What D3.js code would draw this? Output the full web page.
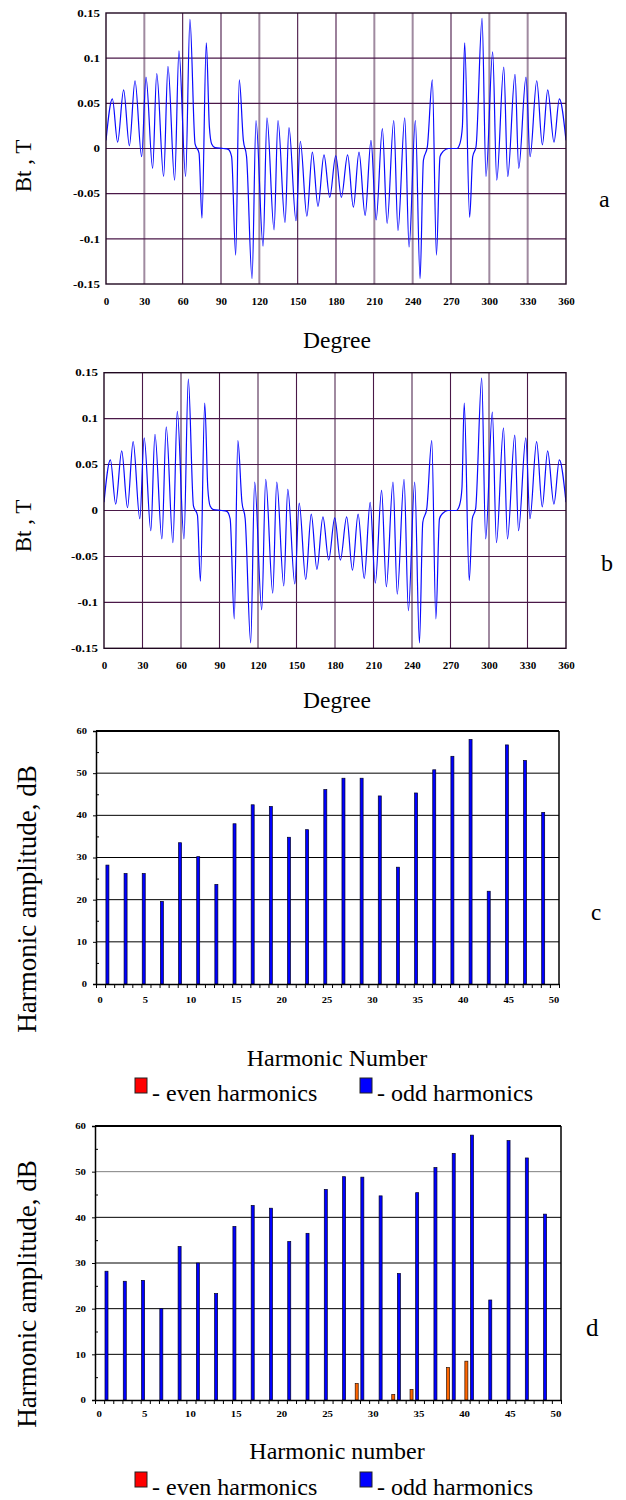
<!DOCTYPE html>
<html><head><meta charset="utf-8">
<script src="https://cdn.jsdelivr.net/npm/d3@7"></script>
<style>
body{margin:0;background:#fff}
svg{display:block}
</style>
</head><body>
<svg id="chart" width="626" height="1500"></svg>
<script>
// ---------- data ----------
const waveDegrees = [0,5.0,9.1,13.8,18.3,22.7,27.9,31.3,36.5,39.7,45.1,48.5,53.7,57.1,62.3,65.7,69.7,72.8,75.1,78.5,80.9,82.7,85.3,91.8,95.7,98.3,101.5,104.3,107.5,110.0,114.3,117.4,122.9,126.0,131.5,134.6,140.1,143.2,148.7,152.1,157.2,161.5,165.9,170.6,175.1,179.8,184.2,189.1,193.6,198.0,202.8,207.4,211.4,216.3,220.0,225.2,228.5,233.8,237.2,242.1,245.8,248.4,251.5,255.4,258.6,261.4,264.0,268.0,274.5,277.1,278.9,280.7,284.6,287.0,289.6,294.3,297.4,302.6,305.8,311.3,314.4,320.1,323.0,328.7,331.9,337.1,341.5,345.7,350.6,354.8,360];
const waveBt = [0.009,0.055,0.007,0.065,0.003,0.075,-0.009,0.079,-0.022,0.083,-0.031,0.091,-0.035,0.108,-0.031,0.143,0.005,-0.005,-0.077,0.117,0.024,0.005,0.001,0,-0.001,-0.009,-0.118,0.076,0.009,-0.009,-0.144,0.031,-0.108,0.034,-0.090,0.031,-0.082,0.023,-0.080,0.008,-0.075,-0.004,-0.064,-0.007,-0.054,-0.008,-0.054,-0.007,-0.065,-0.004,-0.074,0.009,-0.079,0.022,-0.083,0.031,-0.091,0.034,-0.109,0.031,-0.144,-0.013,0.002,0.076,-0.118,-0.009,-0.003,0,0,0.006,0.024,0.117,-0.076,-0.009,0.002,0.144,-0.031,0.107,-0.035,0.090,-0.031,0.082,-0.022,0.079,-0.009,0.075,0.004,0.065,0.007,0.055,0.009];
const degreeTicks = [0,30,60,90,120,150,180,210,240,270,300,330,360];
const btTicks = [-0.15,-0.1,-0.05,0,0.05,0.1,0.15];
const btTickLabels = ["-0.15","-0.1","-0.05","0","0.05","0.1","0.15"];

const harmonicCategories = [0,1,2,3,4,5,6,7,8,9,10,11,12,13,14,15,16,17,18,19,20,21,22,23,24,25,26,27,28,29,30,31,32,33,34,35,36,37,38,39,40,41,42,43,44,45,46,47,48,49,50];
const harmonicTickLabels = [0,5,10,15,20,25,30,35,40,45,50];
const oddHarmonics = [1,3,5,7,9,11,13,15,17,19,21,23,25,27,29,31,33,35,37,39,41,43,45,47,49];
const oddAmpC = [28.2,26.2,26.2,19.6,33.5,30.2,23.6,38.0,42.5,42.1,34.8,36.6,46.1,48.8,48.8,44.6,27.7,45.3,50.8,54.0,58.0,22.0,56.7,53.0,40.7];
const evenHarmonicsC = [];
const evenAmpC = [];
const oddAmpD = [28.2,26.0,26.2,20.0,33.6,30.0,23.3,38.0,42.6,42.0,34.7,36.5,46.1,48.9,48.8,44.7,27.7,45.4,50.9,54.0,58.0,21.9,56.8,53.0,40.7];
const evenHarmonicsD = [28,32,34,38,40];
const evenAmpD = [3.6,1.2,2.3,7.1,8.5];
const ampTicks = [0,10,20,30,40,50,60];
const ampMinorTicks = [5,15,25,35,45,55];

const FONT = "Liberation Serif";
const svg = d3.select("#chart");

function txt(sel) { return sel.attr("font-family", FONT).attr("fill", "#000"); }

function styleTicks(axisG, fs, sx) {
  axisG.attr("font-family", FONT);
  axisG.selectAll(".tick text").each(function(){
    const t = d3.select(this);
    const x = +t.attr("x") || 0;
    t.attr("font-family", FONT).attr("font-size", fs).attr("font-weight", "bold").attr("fill", "#000")
      .attr("x", x / sx).attr("transform", `scale(${sx},1)`);
  });
}

// ---------- waveform panels ----------
function drawWave(cfg) {
  const {L, R, T, B, lightLines, idx} = cfg;
  const x = d3.scaleLinear().domain([0,360]).range([L,R]);
  const y = d3.scaleLinear().domain([-0.15,0.15]).range([B,T]);
  const g = svg.append("g");
  const dark = "#4a1848", light = "#a08aa0";
  g.append("g").selectAll("line").data(degreeTicks.filter(d => d > 0 && d < 360)).join("line")
    .attr("x1", d => x(d)).attr("x2", d => x(d)).attr("y1", T).attr("y2", B)
    .attr("stroke", d => lightLines.includes(d) ? light : dark)
    .attr("stroke-width", d => lightLines.includes(d) ? 2 : 1.1);
  g.append("g").selectAll("line").data(btTicks.filter(d => d > -0.15 && d < 0.15)).join("line")
    .attr("x1", L).attr("x2", R).attr("y1", d => y(d)).attr("y2", d => y(d))
    .attr("stroke", dark).attr("stroke-width", 1.1);
  const cid = "clip" + idx;
  svg.append("clipPath").attr("id", cid).append("rect").attr("x", L).attr("y", T).attr("width", R-L).attr("height", B-T);
  const pts = waveDegrees.map((d,i) => [d, waveBt[i]]);
  g.append("path").datum(pts)
    .attr("clip-path", `url(#${cid})`)
    .attr("fill", "none").attr("stroke", "#0a0aff").attr("stroke-width", 1.2)
    .attr("d", d3.line().x(d => x(d[0])).y(d => y(d[1])).curve(d3.curveMonotoneX));
  g.append("rect").attr("x", L).attr("y", T).attr("width", R-L).attr("height", B-T)
    .attr("fill", "none").attr("stroke", "#200820").attr("stroke-width", 1.4);
  const ax = g.append("g").attr("transform", `translate(0,${B})`)
    .call(d3.axisBottom(x).tickValues(degreeTicks).tickSize(0).tickPadding(13).tickFormat(d3.format("d")));
  ax.select(".domain").remove();
  styleTicks(ax, 11, 1);
  const ay = g.append("g").attr("transform", `translate(${L},0)`)
    .call(d3.axisLeft(y).tickValues(btTicks).tickSize(0).tickPadding(6).tickFormat((d,i) => btTickLabels[i]));
  ay.select(".domain").remove();
  styleTicks(ay, 10, 1.3);
  txt(svg.append("text")).attr("transform", `translate(31,${cfg.ylabY}) rotate(-90)`)
    .attr("text-anchor", "middle").attr("font-size", 23).text("Bt , T");
  txt(svg.append("text")).attr("x", 337).attr("y", cfg.xlabY).attr("text-anchor", "middle")
    .attr("font-size", 23.5).text("Degree");
  txt(svg.append("text")).attr("x", cfg.letterX).attr("y", cfg.letterY).attr("font-size", 24).text(cfg.letter);
}

drawWave({L:106, R:566, T:13, B:284, lightLines:[30,120,210,240,300,330], idx:1,
  ylabY:166, xlabY:348, letter:"a", letterX:599, letterY:207});
drawWave({L:104, R:566, T:372.7, B:648.3, lightLines:[60,120,180,240,300], idx:2,
  ylabY:526, xlabY:708, letter:"b", letterX:601, letterY:571});

// ---------- harmonic bar panels ----------
function drawBars(cfg) {
  const {L, R, T, B, odd, evenH, evenA, gridColors} = cfg;
  const y = d3.scaleLinear().domain([0,60]).range([B,T]);
  const xb = d3.scaleBand().domain(harmonicCategories).range([L-0.45, R-0.45]).padding(0);
  const xs = d3.scaleBand().domain(["odd","even"]).range([0, xb.bandwidth()]).paddingInner(0.14).paddingOuter(0.37);
  const g = svg.append("g");
  g.append("g").selectAll("line").data(ampTicks.filter(d => d > 0 && d < 60)).join("line")
    .attr("x1", L).attr("x2", R).attr("y1", d => y(d)).attr("y2", d => y(d))
    .attr("stroke", d => gridColors[d] || "#000").attr("stroke-width", 1);
  g.append("g").selectAll("rect").data(oddHarmonics.map((h,i) => [h, odd[i]])).join("rect")
    .attr("x", d => xb(d[0]) + xs("odd")).attr("width", xs.bandwidth())
    .attr("y", d => y(d[1])).attr("height", d => y(0) - y(d[1]))
    .attr("fill", "#0000ff").attr("stroke", "#000028").attr("stroke-width", 0.7);
  g.append("g").selectAll("rect").data(evenH.map((h,i) => [h, evenA[i]])).join("rect")
    .attr("x", d => xb(d[0]) + xs("even")).attr("width", xs.bandwidth())
    .attr("y", d => y(d[1])).attr("height", d => y(0) - y(d[1]))
    .attr("fill", "#ff6600").attr("stroke", "#301000").attr("stroke-width", 0.7);
  g.append("line").attr("x1", L).attr("x2", R).attr("y1", T).attr("y2", T).attr("stroke", "#000").attr("stroke-width", 2);
  g.append("line").attr("x1", R).attr("x2", R).attr("y1", T).attr("y2", B).attr("stroke", "#000").attr("stroke-width", 1.5);
  const ay = g.append("g").attr("transform", `translate(${L},0)`)
    .call(d3.axisLeft(y).tickValues(ampTicks).tickSize(3).tickPadding(cfg.yPad).tickFormat(d3.format("d")));
  ay.select(".domain").attr("stroke-width", 1.5);
  styleTicks(ay, cfg.fs, cfg.sx);
  g.append("g").attr("transform", `translate(${L},0)`)
    .call(d3.axisRight(y).tickValues(ampMinorTicks).tickSize(3).tickFormat(""))
    .select(".domain").remove();
  const xl = d3.scaleLinear().domain([0,51]).range([L,R]);
  const axt = g.append("g").attr("transform", `translate(0,${B})`)
    .call(d3.axisBottom(xl).tickValues(d3.range(0,52)).tickSize(4).tickSizeOuter(0).tickFormat(""));
  axt.select(".domain").attr("stroke-width", 1.5);
  const axl = g.append("g").attr("transform", `translate(0,${B})`)
    .call(d3.axisBottom(xb).tickValues(harmonicTickLabels).tickSize(0).tickPadding(cfg.xPad));
  axl.select(".domain").remove();
  styleTicks(axl, cfg.fs, cfg.sx);
  txt(svg.append("text")).attr("transform", `translate(36,${cfg.ylabY}) rotate(-90)`)
    .attr("text-anchor", "middle").attr("font-size", 27).text("Harmonic amplitude, dB");
  txt(svg.append("text")).attr("x", 337).attr("y", cfg.xlabY).attr("text-anchor", "middle")
    .attr("font-size", 24).text(cfg.xlab);
  txt(svg.append("text")).attr("x", cfg.letterX).attr("y", cfg.letterY).attr("font-size", cfg.letterFs).text(cfg.letter);
  const lg = svg.append("g").attr("transform", `translate(0,${cfg.legY})`);
  const items = [{c:"#ff0000", t:"- even harmonics", x:135}, {c:"#0000ff", t:"- odd harmonics", x:360}];
  items.forEach(it => {
    lg.append("rect").attr("x", it.x).attr("y", -23).attr("width", 12).attr("height", 15)
      .attr("fill", it.c).attr("stroke", "#222").attr("stroke-width", 1);
    txt(lg.append("text")).attr("x", it.x + 17).attr("y", 0).attr("font-size", 24).text(it.t);
  });
}

drawBars({L:96, R:559, T:731, B:984, odd:oddAmpC, evenH:evenHarmonicsC, evenA:evenAmpC,
  gridColors:{}, fs:7.5, sx:1.4, yPad:6, xPad:14,
  ylabY:899, xlabY:1066, xlab:"Harmonic Number", letter:"c", letterX:591, letterY:920, letterFs:23, legY:1101});
drawBars({L:95, R:561, T:1126, B:1400, odd:oddAmpD, evenH:evenHarmonicsD, evenA:evenAmpD,
  gridColors:{50:"#808080"}, fs:9, sx:1.2, yPad:6, xPad:11,
  ylabY:1294, xlabY:1459, xlab:"Harmonic number", letter:"d", letterX:586, letterY:1336, letterFs:25, legY:1495});
</script>
</body></html>
